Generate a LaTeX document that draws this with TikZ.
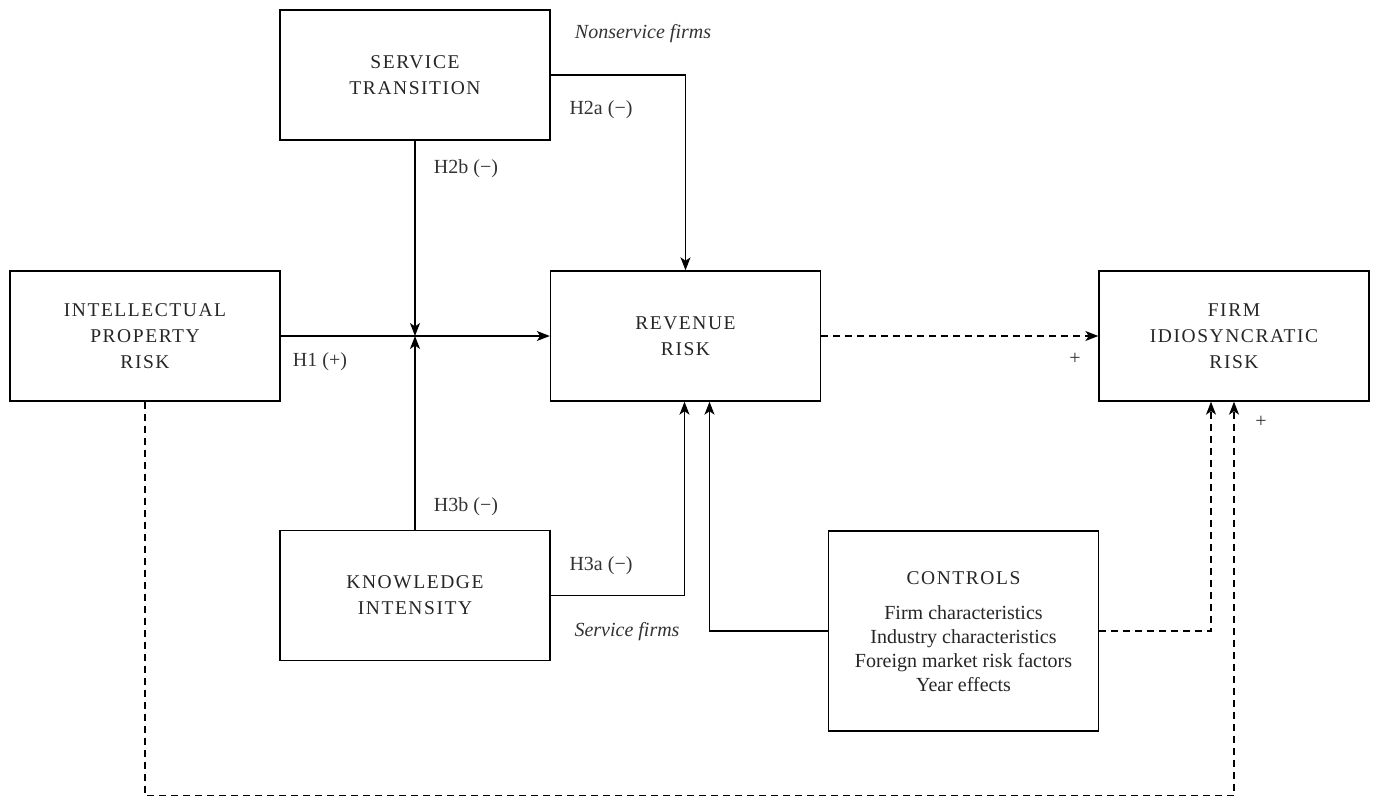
\documentclass[tikz,border=0pt]{standalone}
\usepackage{fontspec}
\setmainfont{Liberation Serif}
\newfontfamily\capsfont[LetterSpace=8]{Liberation Serif}
\usetikzlibrary{arrows.meta}
\begin{document}
\begin{tikzpicture}[x=1pt,y=-1pt,
  box/.style={draw, line width=1.4pt, minimum width=270pt, minimum height=130pt, inner sep=0pt, align=center, font=\capsfont\fontsize{19.5}{26}\selectfont, text=black!85},
  arr/.style={line width=1.2pt, -{Stealth[length=13pt,width=10pt,inset=3.5pt]}},
  darr/.style={line width=1.2pt, dash pattern=on 7pt off 5pt, -{Stealth[length=13pt,width=10pt,inset=3.5pt]}},
  lbl/.style={font=\fontsize{20}{22}\selectfont, text=black!80, inner sep=0pt},
  ilbl/.style={font=\itshape\fontsize{20}{22}\selectfont, text=black!80, inner sep=0pt}
]
\useasboundingbox[fill=white] (0,0) rectangle (1373,797);

\node[box] (st) at (415,75) {SERVICE\\TRANSITION};
\node[box] (ip) at (145,336) {INTELLECTUAL\\PROPERTY\\RISK};
\node[box] (rev) at (685.5,336) {REVENUE\\RISK};
\node[box] (firm) at (1234,336) {FIRM\\IDIOSYNCRATIC\\RISK};
\node[box] (ki) at (415,595.5) {KNOWLEDGE\\INTENSITY};
\node[box, minimum height=200pt] (ctrl) at (963.5,631) {};
\node[font=\capsfont\fontsize{19.5}{22}\selectfont, text=black!85] (ctrlh) at (963.5,578) {CONTROLS};
\node[align=center, font=\fontsize{20}{24}\selectfont, text=black!85] (ctrlt) at (963.5,649) {Firm characteristics\\Industry characteristics\\Foreign market risk factors\\Year effects};

\coordinate (j) at (415,336);

% solid connectors
\draw[arr] (ip.east) -- (rev.west);
\draw[arr] (st.south) -- (j);
\draw[arr] (ki.north) -- (j);
\draw[arr] (st.east) -| (rev.north);
\draw[arr] (ki.east) -| ([xshift=-1pt]rev.south);
\draw[arr] (ctrl.west) -| ([xshift=24pt]rev.south);

% dashed connectors
\draw[darr] (rev.east) -- (firm.west);
\draw[darr] (ctrl.east) -| ([xshift=-23pt]firm.south);
\draw[darr] (ip.south) -- ++(0,394) -| (firm.south);

% labels
\node[ilbl] (ns) at (643,34) {Nonservice firms};
\node[lbl] (h2a) at (601,110) {H2a (−)};
\node[lbl] (h2b) at (466,169) {H2b (−)};
\node[lbl] (h1) at (320,362) {H1 (+)};
\node[lbl] (p1) at (1075,359) {+};
\node[lbl] (p2) at (1261,422) {+};
\node[lbl] (h3b) at (466,507) {H3b (−)};
\node[lbl] (h3a) at (601,566) {H3a (−)};
\node[ilbl] (sf) at (627,632) {Service firms};
\end{tikzpicture}
\end{document}
